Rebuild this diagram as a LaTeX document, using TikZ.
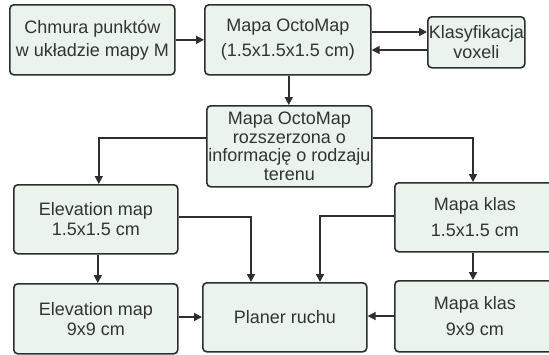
\documentclass[tikz,border=0pt]{standalone}
\usepackage{fontspec}
\setmainfont{Liberation Sans}
\usetikzlibrary{arrows.meta}
\definecolor{boxfill}{HTML}{EAF4EC}
\definecolor{boxline}{HTML}{2E2E2E}
\definecolor{txt}{HTML}{333333}
\tikzset{
  blk/.style={draw=boxline, line width=1.6pt, fill=boxfill, rounded corners=4pt,
    inner sep=0pt, align=center, text=txt, anchor=north west},
  fs/.style={font=\fontsize{18}{#1}\selectfont},
  arr/.style={draw=boxline, line width=1.5pt, -{Triangle[length=8pt,width=8pt]}}
}
\begin{document}
\begin{tikzpicture}[x=1pt,y=-1pt]
\clip (0,0) rectangle (549,354);
\fill[white] (0,0) rectangle (549,354);
\node[blk, fs=23, minimum width=165pt, minimum height=70pt] (chm) at (9,4) {Chmura punktów\\w układzie mapy M};
\node[blk, fs=25, minimum width=166pt, minimum height=70pt] (oct) at (204,4) {Mapa OctoMap\\(1.5x1.5x1.5 cm)};
\node[blk, fs=20, minimum width=97pt, minimum height=51pt] (kla) at (427,16) {Klasyfikacja\\voxeli};
\node[blk, fs=18.5, minimum width=165pt, minimum height=81pt] (ext) at (206,105) {Mapa OctoMap\\rozszerzona o\\informację o rodzaju\\terenu};
\node[blk, fs=20, minimum width=164pt, minimum height=69pt] (el1) at (13,184) {Elevation map\\1.5x1.5 cm};
\node[blk, fs=20, minimum width=164pt, minimum height=70pt] (el9) at (13,283) {Elevation map\\9x9 cm};
\node[blk, fs=18, minimum width=164pt, minimum height=69pt] (pla) at (202,282) {Planer ruchu};
\node[blk, fs=26, minimum width=160pt, minimum height=69pt] (mk1) at (394,182) {Mapa klas\\1.5x1.5 cm};
\node[blk, fs=26, minimum width=160pt, minimum height=71pt] (mk9) at (394,280) {Mapa klas\\9x9 cm};
% connectors
\draw[arr] (chm.east) -- (oct.west);
\draw[arr] (oct.east |- 0,32) -- (kla.west |- 0,32);
\draw[arr] (kla.west |- 0,50) -- (oct.east |- 0,50);
\draw[arr] ([xshift=1pt]oct.south) -- ([xshift=1pt]oct.south |- ext.north);
\draw[arr] (ext.west |- 0,138) -| ([xshift=3pt]el1.north);
\draw[arr] (ext.east |- 0,138) -| (mk1.north -| 473,0);
\draw[arr] ([xshift=2pt]el1.south) -- ([xshift=2pt]el1.south |- el9.north);
\draw[arr] (el1.east |- 0,217) -| (pla.north -| 251,0);
\draw[arr] (mk1.west |- 0,216) -| (pla.north -| 320,0);
\draw[arr] (mk1.south -| 473,0) -- (mk9.north -| 473,0);
\draw[arr] (el9.east |- 0,317) -- (pla.west |- 0,317);
\draw[arr] (mk9.west |- 0,316) -- (pla.east |- 0,316);
\end{tikzpicture}
\end{document}
